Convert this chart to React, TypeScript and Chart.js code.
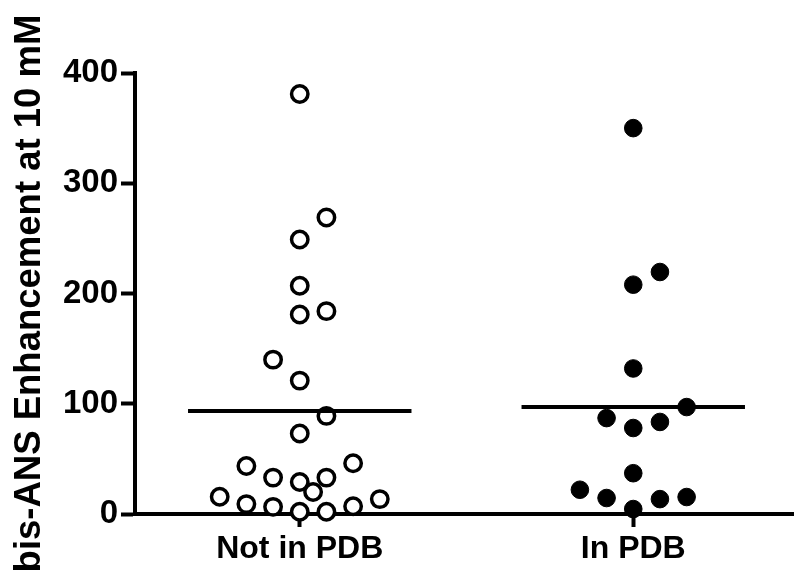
import { useEffect, useRef } from 'react';
import { Chart, registerables } from 'chart.js';

Chart.register(...registerables);

const categories = ['Not in PDB', 'In PDB'];
const yTickValues = [0, 100, 200, 300, 400];
const yTitle = 'bis-ANS Enhancement at 10 mM';

// Not in PDB: values and jitter column (in units of one marker step)
const notInPdbValues = [381, 269, 249, 207, 181, 184, 140, 121, 89, 73, 43.5, 46, 33, 29, 33, 20, 15.6, 13.5, 9, 6.5, 2, 2, 7];
const notInPdbColumns = [0, 1, 0, 0, 0, 1, -1, 0, 1, 0, -2, 2, -1, 0, 1, 0.5, -3, 3, -2, -1, 0, 1, 2];

// In PDB
const inPdbValues = [350, 219.5, 208, 132, 97, 87, 78, 83.5, 37, 22, 14.5, 13.5, 15.4, 4.5];
const inPdbColumns = [0, 1, 0, 0, 2, -1, 0, 1, 0, -2, -1, 1, 2, 0];

// group means (horizontal lines)
const meanValues = [93.5, 97];

const JITTER = 0.08;
const MEAN_HALF = 0.335;
const FONT = "'Liberation Sans', Arial, Helvetica, sans-serif";

export default function App() {
  const ref = useRef<HTMLCanvasElement | null>(null);

  useEffect(() => {
    if (!ref.current) return;
    const toPts = (vals: number[], cols: number[], cat: number) =>
      vals.map((v, i) => ({ x: cat + cols[i] * JITTER, y: v }));
    const meanLine = (cat: number, m: number) => [
      { x: cat - MEAN_HALF, y: m },
      { x: cat + MEAN_HALF, y: m },
    ];

    const chart = new Chart(ref.current, {
      type: 'scatter',
      data: {
        datasets: [
          {
            label: 'Not in PDB mean',
            type: 'line',
            data: meanLine(1, meanValues[0]),
            borderColor: '#000',
            borderWidth: 4,
            pointRadius: 0,
            showLine: true,
            order: 0,
            clip: false as any,
          },
          {
            label: 'In PDB mean',
            type: 'line',
            data: meanLine(2, meanValues[1]),
            borderColor: '#000',
            borderWidth: 4,
            pointRadius: 0,
            showLine: true,
            order: 0,
            clip: false as any,
          },
          {
            label: categories[0],
            data: toPts(notInPdbValues, notInPdbColumns, 1),
            backgroundColor: '#fff',
            borderColor: '#000',
            borderWidth: 3.5,
            pointRadius: 8.2,
            order: 1,
            clip: false as any,
          },
          {
            label: categories[1],
            data: toPts(inPdbValues, inPdbColumns, 2),
            backgroundColor: '#000',
            borderColor: '#000',
            borderWidth: 1,
            pointRadius: 8.8,
            order: 1,
            clip: false as any,
          },
        ],
      },
      options: {
        animation: false,
        responsive: false,
        layout: { autoPadding: false, padding: { top: 73, left: 0, right: 0, bottom: 0 } },
        plugins: { legend: { display: false }, tooltip: { enabled: false } },
        scales: {
          x: {
            type: 'linear',
            min: 0.506,
            max: 0.506 + 658 / 333,
            z: 1,
            afterBuildTicks: (s: any) => {
              s.ticks = categories.map((_, i) => ({ value: i + 1 }));
            },
            afterFit: (s: any) => {
              s.height = 59;
            },
            grid: {
              display: true,
              drawOnChartArea: false,
              drawTicks: true,
              tickLength: 13,
              tickWidth: 4,
              tickColor: '#000',
            },
            border: { display: true, color: '#000', width: 4 },
            ticks: {
              color: '#000',
              padding: 3,
              font: { family: FONT, size: 32, weight: 'bold' },
              callback: (v: any) => categories[Math.round(Number(v)) - 1] ?? '',
            },
          },
          y: {
            type: 'linear',
            min: 0,
            max: 400,
            z: 1,
            afterBuildTicks: (s: any) => {
              s.ticks = yTickValues.map((v) => ({ value: v }));
            },
            afterFit: (s: any) => {
              s.width = 135;
            },
            grid: {
              display: true,
              drawOnChartArea: false,
              drawTicks: true,
              tickLength: 14,
              tickWidth: 4,
              tickColor: '#000',
            },
            border: { display: true, color: '#000', width: 4 },
            ticks: {
              color: '#000',
              padding: 3,
              font: { family: FONT, size: 33, weight: 'bold' },
            },
            title: {
              display: true,
              text: yTitle,
              color: '#000',
              padding: { top: 8, bottom: 0 },
              font: { family: FONT, size: 36.5, weight: 'bold' },
            },
          },
        },
      },
    } as any);
    return () => chart.destroy();
  }, []);

  return (
    <div style={{ position: 'absolute', left: 0, top: 0, width: 794, height: 573, background: '#fff' }}>
      <canvas ref={ref} width={794} height={573} style={{ width: 794, height: 573, display: 'block' }} />
    </div>
  );
}
